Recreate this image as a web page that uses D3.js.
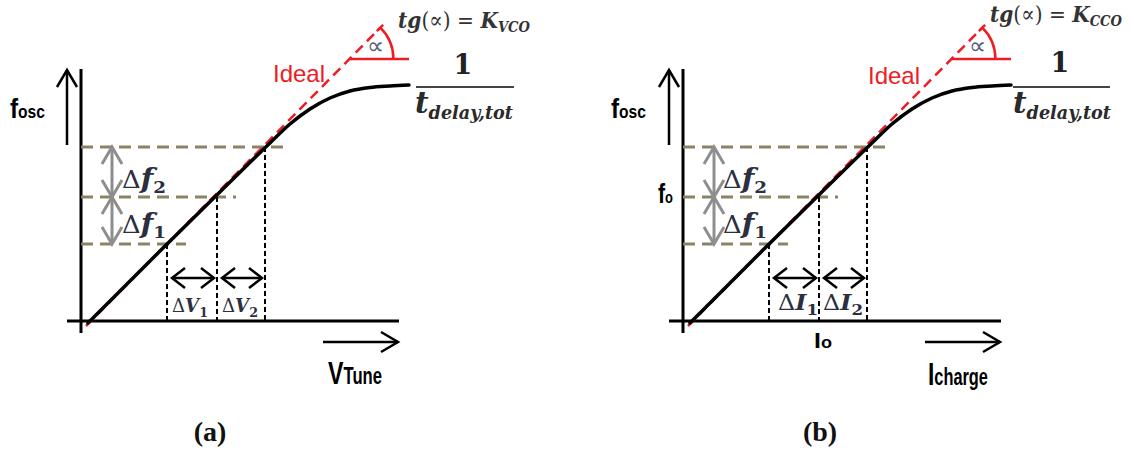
<!DOCTYPE html>
<html>
<head>
<meta charset="utf-8">
<script src="https://cdn.jsdelivr.net/npm/d3@7"></script>
<style>
  body { margin: 0; background: #fff; }
  svg { display: block; }
</style>
</head>
<body>
<svg id="chart" width="1133" height="450"></svg>
<script>
// Oscillator tuning characteristic (arbitrary units): real response saturating at 1/t_delay,tot
const curveX = [0.7, 7.9, 14.9, 18.9, 20.9, 22.9, 24.9, 26.9, 28.9, 30.9, 32.8];
const curveY = [-0.2, 7.0, 13.9, 17.8, 19.7, 21.2, 22.3, 23.0, 23.35, 23.5, 23.6];
// Ideal linear characteristic (slope = gain)
const idealX = [0.5, 29.9];
const idealY = [-0.5, 29.3];
// Control-input operating points and the frequencies they produce
const inputSteps = [8.6, 13.6, 18.4];
const freqLevels = [7.7, 12.4, 17.4];
// Panel texts
const panelTags = ["(a)", "(b)"];
const inputSymbols = ["V", "I"];
const inputNames = ["Tune", "charge"];
const gainSubs = ["VCO", "CCO"];
const freqDeltaSubs = ["2", "1"];
const inputDeltaSubs = ["1", "2"];

const svg = d3.select("#chart");
svg.append("rect").attr("width", 1133).attr("height", 450).attr("fill", "#fff");

const SANS = "'Liberation Sans', Arial, sans-serif";
const SERIF = "'Liberation Serif', 'Times New Roman', serif";
const MATH = "'DejaVu Serif', 'Liberation Serif', serif";
const MATH_INK = "#2c2f3e";

// Multi-part text; optionally squeezed horizontally to a given width
function rich(g, x, y, parts, opt = {}) {
  const t = g.append("text")
    .attr("text-anchor", opt.anchor || "start")
    .attr("fill", opt.fill || "#000")
    .attr("font-family", opt.family || SANS);
  let prev = 0;
  parts.forEach(p => {
    const off = p.off || 0;
    t.append("tspan")
      .attr("dy", off - prev)
      .attr("font-size", p.size)
      .attr("font-weight", p.weight || "bold")
      .attr("font-style", p.style || "normal")
      .attr("font-family", p.family || null)
      .attr("fill", p.fill || null)
      .text(p.t);
    prev = off;
  });
  let sx = 1;
  if (opt.width) sx = opt.width / t.node().getComputedTextLength();
  t.attr("transform", `translate(${x},${y}) scale(${sx},1)`);
  return t;
}

// Open chevron arrow head at (tx,ty) pointing along (dx,dy)
function head(g, tx, ty, dx, dy, back, half, color, w) {
  const len = Math.hypot(dx, dy), ux = dx / len, uy = dy / len;
  const bx = tx - ux * back, by = ty - uy * back;
  g.append("path")
    .attr("d", `M${bx - uy * half},${by + ux * half}L${tx},${ty}L${bx + uy * half},${by - ux * half}`)
    .attr("fill", "none").attr("stroke", color).attr("stroke-width", w)
    .attr("stroke-linejoin", "miter");
}

function arrowLine(g, x1, y1, x2, y2, color, w, back, half, both) {
  g.append("line").attr("x1", x1).attr("y1", y1).attr("x2", x2).attr("y2", y2)
    .attr("stroke", color).attr("stroke-width", w);
  head(g, x2, y2, x2 - x1, y2 - y1, back, half, color, w);
  if (both) head(g, x1, y1, x1 - x2, y1 - y2, back, half, color, w);
}

// Per-panel placement of the annotations (pixels relative to the axis origin)
const layouts = [
  { ox: 81, fosc: -71, dfx: 41, dIn: [91, 141], dInY: -9, dInSize: 18, dInW: 36,
    inName: [247, 63, 54], ideal: [192, -239], tg: [317, -293, 132], one: [382, -247],
    frac: [335, 433], t: [334, -208], tag: 129, showOp: false },
  { ox: 683, fosc: -72, dfx: 40, dIn: [95, 140], dInY: -11, dInSize: 22, dInW: 40,
    inName: [245, 64, 60], ideal: [185, -237], tg: [307, -299, 132], one: [377, -249],
    frac: [330, 427], t: [330, -208], tag: 137, showOp: true }
];

layouts.forEach((L, i) => {
  const g = svg.append("g");
  const x = d3.scaleLinear().domain([0, 33]).range([L.ox, L.ox + 330]);
  const y = d3.scaleLinear().domain([0, 25]).range([321, 71]);
  const X0 = x(0), Y0 = y(0);

  // axes
  g.append("line").attr("x1", X0).attr("x2", X0).attr("y1", y(-1.2)).attr("y2", y(25.2))
    .attr("stroke", "#000").attr("stroke-width", 3);
  g.append("line").attr("x1", x(-1.4)).attr("x2", x(31.8)).attr("y1", Y0).attr("y2", Y0)
    .attr("stroke", "#000").attr("stroke-width", 3);

  // axis direction arrows
  arrowLine(g, x(-1.4), y(17.6), x(-1.4), y(25.1), "#000", 2.5, 17, 10, false);
  arrowLine(g, x(24.2), y(-2.1), x(31.7), y(-2.1), "#000", 2.5, 17, 10, false);

  // frequency levels (olive dashed)
  freqLevels.forEach((f, k) => {
    g.append("line").attr("x1", X0).attr("x2", x(inputSteps[k] + 1.9))
      .attr("y1", y(f)).attr("y2", y(f))
      .attr("stroke", "#8a8466").attr("stroke-width", 3).attr("stroke-dasharray", "12,7");
  });

  // input steps (black dashed verticals)
  inputSteps.forEach((v, k) => {
    g.append("line").attr("x1", x(v)).attr("x2", x(v))
      .attr("y1", y(freqLevels[k])).attr("y2", Y0)
      .attr("stroke", "#000").attr("stroke-width", 2).attr("stroke-dasharray", "5,3");
  });

  // ideal characteristic
  g.append("line").attr("x1", x(idealX[0])).attr("y1", y(idealY[0]))
    .attr("x2", x(idealX[1])).attr("y2", y(idealY[1]))
    .attr("stroke", "#ee1c24").attr("stroke-width", 2.5).attr("stroke-dasharray", "10,6");

  // real characteristic
  const line = d3.line().x(d => x(d[0])).y(d => y(d[1])).curve(d3.curveMonotoneX);
  g.append("path").datum(d3.zip(curveX, curveY)).attr("d", line)
    .attr("fill", "none").attr("stroke", "#000").attr("stroke-width", 3.5)
    .attr("stroke-linecap", "round");

  // gain angle on the ideal line
  const slope = (idealY[1] - idealY[0]) / (idealX[1] - idealX[0]);
  const yAng = 26.2;
  const vx = x(idealX[0] + (yAng - idealY[0]) / slope), vy = y(yAng);
  const theta = Math.atan2(y(idealY[0]) - y(idealY[1]), x(idealX[1]) - x(idealX[0]));
  const r = 44;
  g.append("line").attr("x1", vx).attr("x2", x(32.8)).attr("y1", vy).attr("y2", vy)
    .attr("stroke", "#ee1c24").attr("stroke-width", 2.5);
  const ex = vx + r * Math.cos(theta), ey = vy - r * Math.sin(theta);
  g.append("path").attr("d", `M${vx + r},${vy}A${r},${r} 0 0 0 ${ex},${ey}`)
    .attr("fill", "none").attr("stroke", "#ee1c24").attr("stroke-width", 2.5);
  g.append("line")
    .attr("x1", ex - 5 * Math.cos(theta)).attr("y1", ey + 5 * Math.sin(theta))
    .attr("x2", ex + 4 * Math.cos(theta)).attr("y2", ey - 4 * Math.sin(theta))
    .attr("stroke", "#ee1c24").attr("stroke-width", 2.5);
  g.append("text").attr("x", vx + 26).attr("y", vy - 5).attr("text-anchor", "middle")
    .attr("font-family", SERIF).attr("font-size", 24).attr("fill", "#55607a").text("\u221D");

  // frequency-step arrows (grey, vertical)
  const ax = X0 + 31;
  for (let k = 0; k < 2; k++) {
    arrowLine(g, ax, y(freqLevels[k]), ax, y(freqLevels[k + 1]), "#8e8e8e", 3, 17, 10, true);
  }
  // input-step arrows (black, horizontal)
  const ay = y(4.3);
  for (let k = 0; k < 2; k++) {
    arrowLine(g, x(inputSteps[k]) + 5, ay, x(inputSteps[k + 1]) - 3, ay, "#000", 2.5, 13, 10, true);
  }

  // Δf labels
  [188, 233].forEach((by, k) => {
    rich(g, X0 + L.dfx, by, [
      { t: "\u0394", size: 24, weight: "normal" },
      { t: "f", size: 27, weight: "bold", style: "italic" },
      { t: freqDeltaSubs[k], size: 17, weight: "bold", off: 5 }
    ], { family: MATH, fill: MATH_INK, width: 44 });
  });

  // ΔV / ΔI labels
  L.dIn.forEach((dx, k) => {
    rich(g, X0 + dx, Y0 + L.dInY, [
      { t: "\u0394", size: L.dInSize, weight: "normal" },
      { t: inputSymbols[i], size: L.dInSize, weight: "bold", style: "italic" },
      { t: inputDeltaSubs[k], size: L.dInSize * 0.7, weight: "bold", off: 5 }
    ], { family: MATH, fill: MATH_INK, width: L.dInW });
  });

  // f_osc axis label
  rich(g, X0 + L.fosc, 118, [
    { t: "f", size: 28 }, { t: "osc", size: 18 }
  ], { width: 35 });

  // input axis label
  rich(g, X0 + L.inName[0], Y0 + L.inName[1], [
    { t: inputSymbols[i], size: 32 }, { t: inputNames[i], size: 23 }
  ], { width: L.inName[2] });

  // operating point labels
  if (L.showOp) {
    rich(g, X0 - 25, y(freqLevels[1]) + 6, [
      { t: "f", size: 28 }, { t: "o", size: 17 }
    ], { width: 15 });
    rich(g, x(inputSteps[1]) - 5, 348, [
      { t: "I", size: 22 }, { t: "o", size: 16 }
    ], { width: 18 });
  }

  // Ideal label
  g.append("text").attr("x", X0 + L.ideal[0]).attr("y", Y0 + L.ideal[1])
    .attr("font-family", SANS).attr("font-size", 24).attr("fill", "#ee1c24").text("Ideal");

  // tg(∝) = K
  rich(g, X0 + L.tg[0], Y0 + L.tg[1], [
    { t: "tg", size: 23, weight: "bold", style: "italic" },
    { t: "(\u221D) = ", size: 23, weight: "normal" },
    { t: "K", size: 23, weight: "bold", style: "italic" },
    { t: gainSubs[i], size: 15, weight: "bold", style: "italic", off: 4 }
  ], { family: MATH, fill: "#333", width: L.tg[2] });

  // saturation frequency 1 / t_delay,tot
  g.append("text").attr("x", X0 + L.one[0]).attr("y", Y0 + L.one[1]).attr("text-anchor", "middle")
    .attr("font-family", MATH).attr("font-weight", "bold").attr("font-size", 27)
    .attr("fill", "#222").text("1");
  g.append("line").attr("x1", X0 + L.frac[0]).attr("x2", X0 + L.frac[1])
    .attr("y1", 87).attr("y2", 87).attr("stroke", "#444").attr("stroke-width", 2);
  rich(g, X0 + L.t[0], Y0 + L.t[1], [
    { t: "t", size: 30, weight: "bold", style: "italic" },
    { t: "delay,tot", size: 18, weight: "bold", style: "italic", off: 6 }
  ], { family: MATH, fill: "#2a2a2a", width: 98 });

  // panel tag
  g.append("text").attr("x", X0 + L.tag).attr("y", 441).attr("text-anchor", "middle")
    .attr("font-family", SERIF).attr("font-weight", "bold").attr("font-size", 28)
    .attr("fill", "#111").text(panelTags[i]);
});
</script>
</body>
</html>
